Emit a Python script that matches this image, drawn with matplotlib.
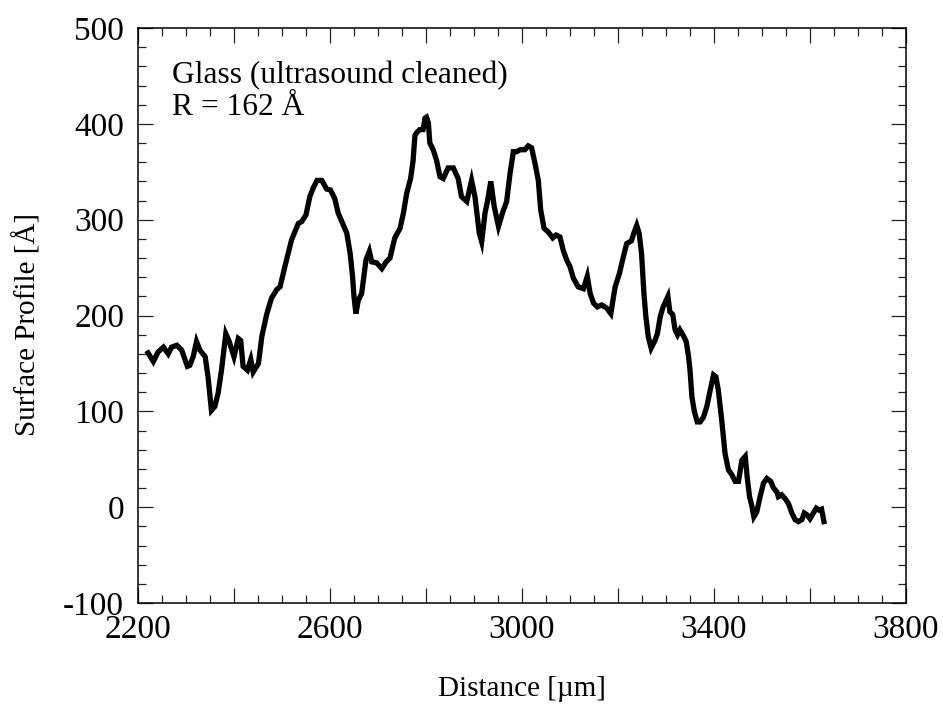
import numpy as np
import matplotlib
matplotlib.use("Agg")
import matplotlib.pyplot as plt
from matplotlib.ticker import MultipleLocator, FuncFormatter

plt.rcParams['font.family'] = ['Liberation Serif', 'DejaVu Serif']
plt.rcParams['axes.unicode_minus'] = False

# profile: distance (um) and height (A)
distance = [2221, 2232, 2242, 2253, 2263, 2270, 2281, 2291, 2303, 2308,
            2315, 2322, 2329, 2340, 2346, 2353, 2360, 2367, 2374, 2383,
            2390, 2400, 2409, 2414, 2419, 2428, 2435, 2440, 2451, 2458,
            2468, 2478, 2489, 2496, 2506, 2520, 2534, 2541, 2550, 2558,
            2565, 2573, 2583, 2593, 2601, 2610, 2617, 2628, 2635, 2642,
            2647, 2650, 2654, 2659, 2666, 2675, 2682, 2687, 2697, 2708,
            2717, 2725, 2735, 2746, 2753, 2760, 2768, 2773, 2777, 2781,
            2787, 2794, 2798, 2801, 2805, 2808, 2815, 2822, 2829, 2836,
            2846, 2857, 2867, 2874, 2885, 2895, 2902, 2911, 2916, 2923,
            2928, 2935, 2942, 2951, 2960, 2968, 2975, 2982, 2989, 2996,
            3006, 3013, 3020, 3027, 3034, 3039, 3046, 3055, 3064, 3071,
            3079, 3086, 3093, 3100, 3107, 3117, 3128, 3136, 3142, 3149,
            3157, 3166, 3176, 3185, 3194, 3203, 3211, 3218, 3228, 3233,
            3239, 3244, 3249, 3254, 3258, 3263, 3269, 3277, 3282, 3288,
            3294, 3304, 3308, 3314, 3319, 3324, 3329, 3335, 3342, 3347,
            3350, 3354, 3359, 3365, 3371, 3378, 3385, 3392, 3399, 3404,
            3409, 3416, 3423, 3430, 3437, 3444, 3451, 3458, 3465, 3469,
            3474, 3479, 3483, 3489, 3496, 3503, 3510, 3518, 3524, 3531,
            3534, 3541, 3548, 3555, 3562, 3569, 3576, 3583, 3588, 3594,
            3600, 3607, 3613, 3619, 3624, 3629]
profile = [161, 152, 162, 167, 160, 167, 169, 164, 147, 148,
           157, 173, 164, 157, 136, 101, 105, 119, 143, 181,
           173, 157, 176, 174, 147, 143, 154, 141, 150, 178,
           201, 218, 227, 230, 251, 279, 296, 298, 305, 324,
           333, 341, 341, 332, 331, 322, 307, 294, 286, 265,
           241, 220, 202, 216, 223, 258, 267, 256, 255, 249,
           256, 260, 281, 291, 307, 328, 343, 361, 388, 391,
           394, 394, 406, 407, 401, 380, 373, 362, 345, 343,
           354, 354, 343, 324, 319, 341, 324, 286, 277, 307,
           319, 340, 314, 293, 308, 319, 348, 371, 371, 373,
           373, 377, 375, 359, 341, 310, 291, 287, 281, 284,
           282, 268, 258, 251, 239, 230, 228, 241, 223, 213,
           209, 211, 208, 202, 230, 244, 261, 275, 278, 286,
           294, 286, 265, 223, 199, 178, 166, 174, 181, 199,
           209, 220, 204, 201, 185, 180, 185, 180, 173, 157,
           143, 115, 100, 89, 89, 94, 105, 122, 138, 136,
           122, 91, 56, 39, 34, 27, 27, 49, 53, 32,
           11, 1, -10, -5, 11, 25, 30, 27, 20, 16,
           11, 13, 9, 4, -6, -13, -15, -13, -6, -8,
           -12, -6, -1, -3, -2, -15]

fig = plt.figure(figsize=(9.43, 7.07), dpi=100)
ax = fig.add_axes([0.1463, 0.147, 0.8145, 0.8134])

ax.plot(distance, profile, color='black', linewidth=3.8,
        solid_joinstyle='miter')

ax.set_xlim(2200, 3800)
ax.set_ylim(-100, 500)

ax.xaxis.set_major_locator(MultipleLocator(200))
ax.xaxis.set_minor_locator(MultipleLocator(50))
ax.xaxis.set_major_formatter(
    FuncFormatter(lambda v, p: '%d' % v if int(round(v)) % 400 == 200 else ''))
ax.yaxis.set_major_locator(MultipleLocator(100))
ax.yaxis.set_minor_locator(MultipleLocator(20))

ax.tick_params(which='both', direction='in', top=True, right=True,
               labelsize=24, width=0.9, color='#222222')
ax.tick_params(which='major', length=11)
ax.tick_params(which='minor', length=6)
ax.tick_params(axis='x', pad=8)
ax.tick_params(axis='y', pad=10)
for s in ax.spines.values():
    s.set_linewidth(1.1)

# axis titles placed in figure coordinates
fig.text(0.5535, 1 - 689 / 707, 'Distance [µm]', fontsize=21,
         ha='center', va='center')
fig.text(27 / 943, 1 - 325 / 707, 'Surface Profile [Å]', fontsize=21,
         ha='center', va='center', rotation=90)

ax.text(0.044, 0.904, 'Glass (ultrasound cleaned)', transform=ax.transAxes,
        fontsize=22.7, va='baseline')
ax.text(0.044, 0.849, 'R = 162 Å', transform=ax.transAxes,
        fontsize=22.7, va='baseline')

fig.savefig('out.png', dpi=100)
